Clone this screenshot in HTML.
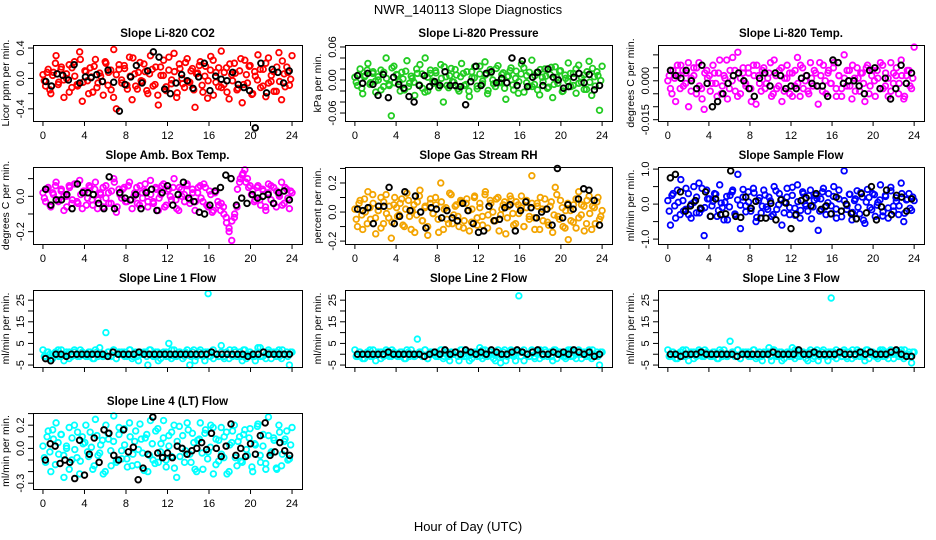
<!DOCTYPE html>
<html><head><meta charset="utf-8"><style>
html,body{margin:0;padding:0;background:#fff;}
svg{display:block;font-family:"Liberation Sans",sans-serif;}
</style></head><body>
<svg id="chart" width="936" height="540" viewBox="0 0 936 540" xmlns="http://www.w3.org/2000/svg">
<rect width="936" height="540" fill="#fff"/>
<text x="468" y="14" text-anchor="middle" font-size="13">NWR_140113  Slope Diagnostics</text>
<text x="468" y="531" text-anchor="middle" font-size="13">Hour of Day (UTC)</text>
</svg>
<script>
const xTicks = [0,4,8,12,16,20,24];
const co2Vals = [5,-10,12,-20,8,30,-5,15,-25,0,18,-12,22,-8,35,-30,10,-3,14,-18,25,-6,3,-22,20,8,-15,38,-40,12,-2,17,-9,28,-28,6,-14,21,-4,9,-20,30,-10,15,-35,4,24,-16,11,-7,33,-25,19,0,-12,26,-5,13,-38,7,22,-18,16,-3,29,-22,8,-11,36,-8,14,-27,5,20,-15,10,-32,24,-6,17,-20,3,31,-12,12,-24,27,-4,9,-17,34,-28,6,15,-9,30];
const co2Vals2 = [-3,8,-15,4,20,-8,12,-2,6,-18,14,3,-10,25,-5,9,-20,2,16,-12,7,-4,22,-9,11,-25,5,18,-6,13,-14,3,27,-10,8,-3,19,-16,6,12,-8,-22,15,4,-11,28,-2,9,-19,13,-7,21,-4,10,-15,6,17,-9,3,-26,11,24,-5,14,-12,8,-18,19,-3,7,-13,26,-8,5,16,-21,9,-2,12,-10,20,-6,4,-17,15,-4,23,-11,8,-1];
const co2Black = [-4,-10,6,4,-2,18,-6,2,1,5,-4,11,-5,-43,-8,2,17,-6,10,35,28,-14,-20,-6,5,-3,-13,2,20,-16,3,-1,-3,8,-8,-12,-16,-65,20,-19,12,8,-6,10];
const presVals = [5,-10,20,-25,8,30,-5,15,-22,0,18,-12,40,-8,-65,25,10,-3,14,-18,35,-6,3,-28,12,28,-15,40,-20,12,-2,17,-9,28,-40,6,-14,21,-4,9,-20,30,-10,15,-30,4,24,-16,11,-7,33,-25,19,0,-12,26,-5,13,-35,7,22,-18,16,-3,29,-22,8,-11,36,-8,14,-27,5,20,-15,10,-32,24,-6,17,-20,3,31,-12,12,-24,27,-4,9,-17,34,-28,6,15,-55,25];
const presVals2 = [-4,10,-15,6,18,-8,12,-2,6,-18,14,3,-10,22,-5,9,-20,2,16,-12,7,-4,20,-9,11,-22,5,18,-6,13,-14,3,24,-10,8,-3,19,-16,6,12,-8,-20,15,4,-11,25,-2,9,-19,13,-7,21,-4,10,-15,6,17,-9,3,-24,11,22,-5,14,-12,8,-18,19,-3,7,-13,23,-8,5,16,-21,9,-2,12,-10,20,-6,4,-17,15,-4,21,-11,8,-1];
const presBlack = [8,-6,12,-8,-28,10,-32,5,-8,-15,-30,-40,-10,8,-12,-3,-10,15,-10,-10,-12,-45,-3,25,-10,12,15,-5,3,-5,40,-10,35,-12,5,14,-10,20,5,0,-15,-12,5,12,-5,10,-18,-10];
const tempVals = [0,-3,4,-8,2,6,-2,3,-10,1,5,-5,7,-3,-11,4,2,-1,3,-6,8,-2,1,-7,4,9,-4,11,-5,3,-1,5,-3,6,-9,2,-4,5,-1,3,-6,8,-3,4,-8,1,6,-5,3,-2,9,-6,5,0,-4,7,-2,3,-9,2,6,-5,4,-1,7,-6,2,-3,10,-2,4,-7,1,5,-4,3,-8,6,-2,4,-6,1,7,-3,3,-6,7,-1,2,-5,8,-7,2,4,-3,13];
const tempVals2 = [2,-5,1,6,-3,4,-1,7,-4,2,5,-2,-7,3,1,-4,6,-1,3,-5,2,8,-3,0,4,-6,1,5,-2,3,-8,2,6,-1,4,-3,1,7,-5,2,-2,5,-4,1,3,-6,4,-1,6,-3,2,-5,1,4,-2,7,-4,0,3,-1,5,-3,2,-6,1,4,-2,6,-4,1,3,-1,5,-5,2,0,4,-3,6,-2,1,-4,3,5,-1,2,-6,4,-2,1];
const tempBlack = [4,2,1,4,0,-3,6,-1,-10,-8,-5,-1,2,3,0,-3,-6,1,3,-2,3,2,-3,-2,-3,1,2,-1,-2,-2,-6,8,7,-1,0,0,-2,-5,4,5,-3,1,-7,-3,6,-1,3];
const ambVals = [2,-3,5,-6,1,8,-2,4,-8,0,6,-4,7,-3,9,-7,3,-1,5,-5,8,-2,1,-6,6,2,-4,10,-9,4,-1,5,-3,8,-7,2,-4,6,-1,3,-6,9,-3,5,-8,1,7,-5,4,-2,10,-7,5,0,-3,7,-2,4,-8,2,6,-3,5,-6,1,-8,3,-5,-4,-10,-15,-20,-25,-12,-6,8,12,15,10,6,3,-2,6,-5,3,-8,7,-2,5,-6,1,8,-4,4,-7,2];
const ambVals2 = [-1,4,-5,2,6,-3,3,0,-6,5,-2,7,-4,1,3,-5,6,-2,4,-7,2,5,-1,-4,3,8,-6,1,4,-3,6,-2,0,5,-5,2,7,-3,1,-4,4,-1,6,-6,3,0,5,-2,-8,4,1,6,-4,2,-3,5,-1,7,-5,3,-9,2,-3,-8,-6,-12,-18,-14,-10,4,10,13,8,5,1,-3,5,-2,4,-6,2,6,-4,3,0,-5,5,-1,3];
const ambBlack = [4,-5,-2,-2,1,-7,7,2,2,1,-4,-7,11,-7,2,-1,-2,1,-7,2,4,-8,2,6,-5,1,8,-1,-3,-9,-10,-5,3,5,12,10,-5,-1,-4,1,-1,0,1,-4,2,3,-2];
const rhVals = [2,-10,8,-12,0,14,-5,6,-15,1,10,-8,12,-4,-18,5,3,-2,9,-10,13,-3,1,-14,7,15,-6,4,-16,6,-1,10,-5,20,-12,3,-8,12,-2,5,-10,7,-6,9,-13,2,11,-9,6,-3,12,-11,8,0,-6,10,-2,5,-15,4,9,-9,7,-1,11,-10,3,-5,25,-4,6,-12,2,9,-7,4,-14,17,-3,8,-10,1,-19,-6,5,-11,14,-2,4,-8,11,-12,3,7,-5,1];
const rhVals2 = [-5,6,-2,9,-8,3,12,-4,1,-11,7,-1,4,-7,10,-3,6,-9,2,8,-12,5,-2,11,-6,3,-10,9,-1,5,-14,7,2,-5,13,-8,4,-3,8,-11,6,1,-7,10,-4,3,-9,14,-2,6,-6,9,-13,2,7,-4,11,-1,-8,5,3,-10,8,-3,6,-12,4,10,-6,2,-9,7,-2,12,-5,3,-11,6,1,-7,9,-4,5,-13,8,-1,4,-8,10,-3];
const rhBlack = [2,1,3,-8,4,4,17,-8,-3,14,1,11,0,-11,3,2,-4,1,-4,-6,6,1,-8,-14,-13,4,-6,-5,3,5,-13,1,7,3,-4,0,2,-9,30,-4,5,2,9,16,15,8,-9];
const flowVals = [10,-60,30,-40,5,70,-20,45,-30,0,50,-25,60,-15,-90,40,15,-5,30,-35,55,-10,5,-45,25,40,-30,85,-70,20,-5,35,-20,45,-50,10,-25,40,-8,20,-35,50,-15,30,-60,5,45,-30,25,-12,55,-40,35,0,-20,40,-8,25,-75,15,45,-30,30,-5,50,-40,15,-20,95,-15,28,-45,10,38,-28,20,-55,42,-10,30,-35,5,55,-22,22,-40,48,-6,18,-30,60,-50,12,30,-18,10];
const flowVals2 = [-20,25,-5,40,-30,10,-15,30,-40,5,20,-25,45,-10,15,-35,8,28,-18,3,-45,22,-8,35,-28,12,-3,42,-22,6,-12,32,-38,18,-6,26,-15,9,-30,38,-2,14,-25,20,-10,48,-32,7,-18,30,-5,24,-42,11,16,-20,35,-8,4,-28,22,-14,40,-36,10,-4,28,-24,15,-9,33,-46,6,19,-16,27,-3,12,-34,25,-11,38,-20,8,-5,30,-26,14,-12,20];
const flowBlack = [75,85,35,-20,-5,10,-12,35,-35,15,-30,-28,95,-35,-38,20,-12,8,-40,-40,2,-45,12,3,-70,-30,10,18,-5,30,-15,-5,-28,20,-20,0,-27,-42,30,-25,50,-45,-8,40,-30,25,20,-20,15];
const l1Vals = [2,-1,1,-2,0,1,-1,2,-3,0,1,-1,2,0,-1,1,0,-1,1,-2,2,-1,0,-1,10,1,-1,2,-2,1,0,1,-1,2,-2,0,-1,1,0,1,-5,2,-1,1,-3,0,1,-1,5,-2,2,-1,1,0,-1,2,-5,1,-3,0,2,-1,1,28,1,-2,0,-1,4,-1,1,-2,0,2,-1,1,-3,2,0,1,-1,-3,3,-1,1,-2,2,0,1,-1,2,-2,0,1,-5,1];
const l1Vals2 = [-1,1,0,-2,1,2,-1,0,1,-2,0,1,-1,2,0,-1,1,0,-2,1,3,-1,0,1,-1,2,-2,0,1,-1,0,2,-1,1,-3,0,1,-1,2,0,-1,1,-2,0,1,-1,2,-1,0,1,-2,1,0,-1,2,-1,1,0,-3,1,-1,2,0,-1,1,-2,0,2,-1,1,0,-1,2,-2,1,0,-1,1,3,-1,0,1,-2,0,1,-1,2,0,-1,1];
const l1Black = [-2,-3,0,0,-1,0,0,0,0,0,0,0,-1,1,0,0,0,0,1,0,0,0,0,0,0,0,0,0,0,0,0,0,1,0,0,0,0,0,0,-1,0,0,1,0,0,0,0,0];
const l2Vals = [2,-1,1,-2,0,1,-1,2,-3,0,1,-1,2,0,-1,1,0,-1,1,-2,2,-1,0,-1,7,1,-1,2,-2,1,0,1,-1,2,-2,0,-1,1,0,1,-3,2,-1,1,-3,0,1,-1,3,-2,2,-1,1,0,-3,2,-4,1,-3,0,2,-1,1,27,1,-3,0,-1,2,-1,1,-2,0,2,-1,1,-3,2,0,1,-1,-2,2,-1,1,-2,2,0,1,-1,2,-2,0,1,-5,1];
const l2Vals2 = [-1,1,0,-2,1,2,-1,0,1,-2,0,1,-1,2,0,-1,1,0,-2,1,2,-1,0,1,-1,2,-2,0,1,-1,0,2,-1,1,-3,0,1,-1,2,0,-1,1,-2,0,1,-1,2,-1,0,1,-2,1,0,-1,2,-1,1,0,-3,1,-1,2,0,-1,1,-2,0,2,-1,1,0,-1,2,-2,1,0,-1,1,2,-1,0,1,-2,0,1,-1,2,0,-1,1];
const l2Black = [0,0,0,0,0,0,1,0,0,0,0,0,0,-1,0,1,0,2,0,1,0,2,1,0,1,0,2,1,0,0,1,2,1,0,1,2,0,0,1,0,1,0,2,1,0,1,-1,0];
const l3Vals = [2,-1,1,-2,0,1,-1,2,-3,0,1,-1,2,0,-1,1,0,-1,1,-2,2,-1,0,-1,6,1,-1,2,-2,1,0,1,-1,2,-2,0,-1,1,0,3,-3,2,-1,1,-3,0,1,-1,3,-2,2,-1,1,0,-3,2,-2,1,-3,0,2,-1,1,26,1,-2,0,-1,2,-1,1,-2,0,2,-1,1,-3,2,0,1,-1,-2,2,-1,1,-2,2,0,1,-1,2,-2,0,1,-4,1];
const l3Vals2 = [-1,1,0,-2,1,2,-1,0,1,-2,0,1,-1,2,0,-1,1,0,-2,1,2,-1,0,1,-1,2,-2,0,1,-1,0,2,-1,1,-3,0,1,-1,2,0,-1,1,-2,0,1,-1,2,-1,0,1,-2,1,0,-1,2,-1,1,0,-3,1,-1,2,0,-1,1,-2,0,2,-1,1,0,-1,2,-2,1,0,-1,1,2,-1,0,1,-2,0,1,-1,2,0,-1,1];
const l3Black = [0,0,-1,0,0,0,1,0,0,0,0,0,0,-1,0,0,0,0,0,0,1,0,0,0,0,2,0,0,1,0,0,0,0,1,0,0,0,1,0,1,0,0,0,1,2,0,-1,-1];
const l4Vals = [2,-12,15,-20,8,22,-5,12,-25,0,18,-10,20,-8,-22,10,5,-3,14,-18,25,-6,3,-22,20,8,-15,28,-10,12,-2,17,-9,22,-15,6,-14,21,-4,9,-20,24,-10,15,-12,4,24,-16,11,-7,20,-25,19,0,-12,22,-5,13,-18,7,22,-18,16,-3,20,-22,8,-11,18,-8,14,-20,5,20,-15,10,-12,16,-6,17,-20,3,21,-12,12,-18,27,-4,9,-17,20,-15,6,15,-9,18];
const l4Vals2 = [-8,10,-3,16,-14,5,12,-6,2,-18,9,-1,14,-11,4,20,-7,1,-15,11,-4,7,-20,13,-2,6,-12,18,-9,3,-16,10,-5,15,-1,8,-19,12,-6,4,-13,17,-3,9,-10,2,14,-17,6,-7,11,-2,16,-12,5,-20,8,-4,13,-9,1,18,-14,7,-5,10,-22,3,15,-8,6,-11,12,-1,9,-16,4,19,-6,2,-13,11,-3,7,-18,14,-5,8,-10,3];
const l4Black = [-10,4,2,-13,-10,-12,-26,7,-23,-5,9,-12,16,13,-6,-10,16,-3,1,-27,-17,-5,27,-4,-8,-4,-8,2,0,-5,-2,0,5,-1,13,0,-7,2,21,-6,0,-7,4,-5,11,22,-6,-3,5,-2,-6];

const svg = document.getElementById('chart');
const NS = 'http://www.w3.org/2000/svg';
function mk(tag, attrs){const e=document.createElementNS(NS,tag);for(const k in attrs)e.setAttribute(k,attrs[k]);return e;}

const cols = [[33,302],[345,612],[658,924]];
const rows = [[45,121],[167,244],[290,367],[413,489]];

const panels = [
 {name:'co2',title:'Slope Li-820 CO2',yt:'Licor ppm per min.',c:0,r:0,vals:co2Vals,vals2:co2Vals2,blk:co2Black,s:0.01,ylim:[-0.56,0.44],ticks:[-0.4,-0.2,0,0.2,0.4],labels:{'-0.4':'-0.4','0':'0.0','0.4':'0.4'},col:'#ff0000',xl:true},
 {name:'pressure',title:'Slope Li-820 Pressure',yt:'kPa per min.',c:1,r:0,vals:presVals,vals2:presVals2,blk:presBlack,s:0.001,ylim:[-0.0745,0.0636],ticks:[-0.06,-0.04,-0.02,0,0.02,0.04,0.06],labels:{'-0.06':'-0.06','0':'0.00','0.06':'0.06'},col:'#22cc22',xl:true},
 {name:'temp',title:'Slope Li-820 Temp.',yt:'degrees C per min.',c:2,r:0,vals:tempVals,vals2:tempVals2,blk:tempBlack,s:0.001,ylim:[-0.0155,0.0138],ticks:[-0.015,-0.01,-0.005,0,0.005,0.01],labels:{'-0.015':'-0.015','0':'0.000'},col:'#ff00ff',xl:true},
 {name:'amb-box-temp',title:'Slope Amb. Box Temp.',yt:'degrees C per min.',c:0,r:1,vals:ambVals,vals2:ambVals2,blk:ambBlack,s:0.01,ylim:[-0.27,0.166],ticks:[-0.2,-0.1,0,0.1],labels:{'-0.2':'-0.2','0':'0.0'},col:'#ff00ff',xl:true},
 {name:'gas-rh',title:'Slope Gas Stream RH',yt:'percent per min.',c:1,r:1,vals:rhVals,vals2:rhVals2,blk:rhBlack,s:0.01,ylim:[-0.22,0.31],ticks:[-0.2,-0.1,0,0.1,0.2,0.3],labels:{'-0.2':'-0.2','0':'0.0','0.2':'0.2'},col:'#f3a400',xl:true},
 {name:'sample-flow',title:'Slope Sample Flow',yt:'ml/min per min.',c:2,r:1,vals:flowVals,vals2:flowVals2,blk:flowBlack,s:0.01,ylim:[-1.14,1.06],ticks:[-1,-0.5,0,0.5,1],labels:{'-1':'-1.0','0':'0.0','1':'1.0'},col:'#0000ff',xl:true},
 {name:'line1-flow',title:'Slope Line 1 Flow',yt:'ml/min per min.',c:0,r:2,vals:l1Vals,vals2:l1Vals2,blk:l1Black,s:1,ylim:[-5.9,29.7],ticks:[-5,0,5,10,15,20,25],labels:{'-5':'-5','5':'5','15':'15','25':'25'},col:'#00ffff',xl:false},
 {name:'line2-flow',title:'Slope Line 2 Flow',yt:'ml/min per min.',c:1,r:2,vals:l2Vals,vals2:l2Vals2,blk:l2Black,s:1,ylim:[-5.9,29.7],ticks:[-5,0,5,10,15,20,25],labels:{'-5':'-5','5':'5','15':'15','25':'25'},col:'#00ffff',xl:false},
 {name:'line3-flow',title:'Slope Line 3 Flow',yt:'ml/min per min.',c:2,r:2,vals:l3Vals,vals2:l3Vals2,blk:l3Black,s:1,ylim:[-5.9,29.7],ticks:[-5,0,5,10,15,20,25],labels:{'-5':'-5','5':'5','15':'15','25':'25'},col:'#00ffff',xl:false},
 {name:'line4-flow',title:'Slope Line 4 (LT) Flow',yt:'ml/min per min.',c:0,r:3,vals:l4Vals,vals2:l4Vals2,blk:l4Black,s:0.01,ylim:[-0.35,0.305],ticks:[-0.3,-0.2,-0.1,0,0.1,0.2,0.3],labels:{'-0.3':'-0.3','0':'0.0','0.2':'0.2'},col:'#00ffff',xl:true}
];

panels.forEach(p=>{
  const [L,R]=cols[p.c], [T,B]=rows[p.r];
  const g = mk('g',{});
  
  
  svg.appendChild(g);
  const xs = v => L + (v+0.96)/25.92*(R-L);
  const ys = v => B - (v-p.ylim[0])/(p.ylim[1]-p.ylim[0])*(B-T);
  const t = mk('text',{x:(L+R)/2,y:T-8,'text-anchor':'middle','font-size':'11.5','font-weight':'bold'});
  t.textContent=p.title;
  
  
  g.appendChild(t);
  const n=p.vals.length;
  p.vals.forEach((v,i)=>{
    const c=mk('circle',{cx:xs(i*24/(n-1)),cy:ys(v*p.s),r:2.8,fill:'none',stroke:p.col,'stroke-width':1.8});
    
    
    g.appendChild(c);
  });
  const n2=p.vals2.length;
  p.vals2.forEach((v,i)=>{
    const c=mk('circle',{cx:xs((i+0.5)*24/n2),cy:ys(v*p.s),r:2.8,fill:'none',stroke:p.col,'stroke-width':1.8});
    
    
    g.appendChild(c);
  });
  const m=p.blk.length;
  p.blk.forEach((v,i)=>{
    const c=mk('circle',{cx:xs((i+0.5)*24/m),cy:ys(v*p.s),r:2.8,fill:'none',stroke:'#000','stroke-width':1.9});
    
    
    g.appendChild(c);
  });
  const box=mk('rect',{x:L+0.5,y:T+0.5,width:R-L,height:B-T,fill:'none',stroke:'#000','stroke-width':1});
  
  
  g.appendChild(box);
  xTicks.forEach(v=>{
    const x=xs(v);
    g.appendChild(mk('line',{x1:x,x2:x,y1:B,y2:B+5,stroke:'#000'}));
    if(p.xl){
      const tl=mk('text',{x:x,y:B+18,'text-anchor':'middle','font-size':'11'});
      tl.textContent=v;
      
      
      g.appendChild(tl);
    }
  });
  p.ticks.forEach(v=>{
    const y=ys(v);
    g.appendChild(mk('line',{x1:L-5,x2:L,y1:y,y2:y,stroke:'#000'}));
    const key=String(v);
    if(p.labels[key]!==undefined){
      const tl=mk('text',{x:L-9,y:y,'text-anchor':'middle','font-size':'11',transform:`rotate(-90 ${L-9} ${y})`});
      tl.textContent=p.labels[key];
      
      
      g.appendChild(tl);
    }
  });
  const yx=L-24, yy=(T+B)/2;
  const yt=mk('text',{x:yx,y:yy,'text-anchor':'middle','font-size':'10.5',transform:`rotate(-90 ${yx} ${yy})`});
  yt.textContent=p.yt;
  
  
  g.appendChild(yt);
});
</script>
</body></html>
